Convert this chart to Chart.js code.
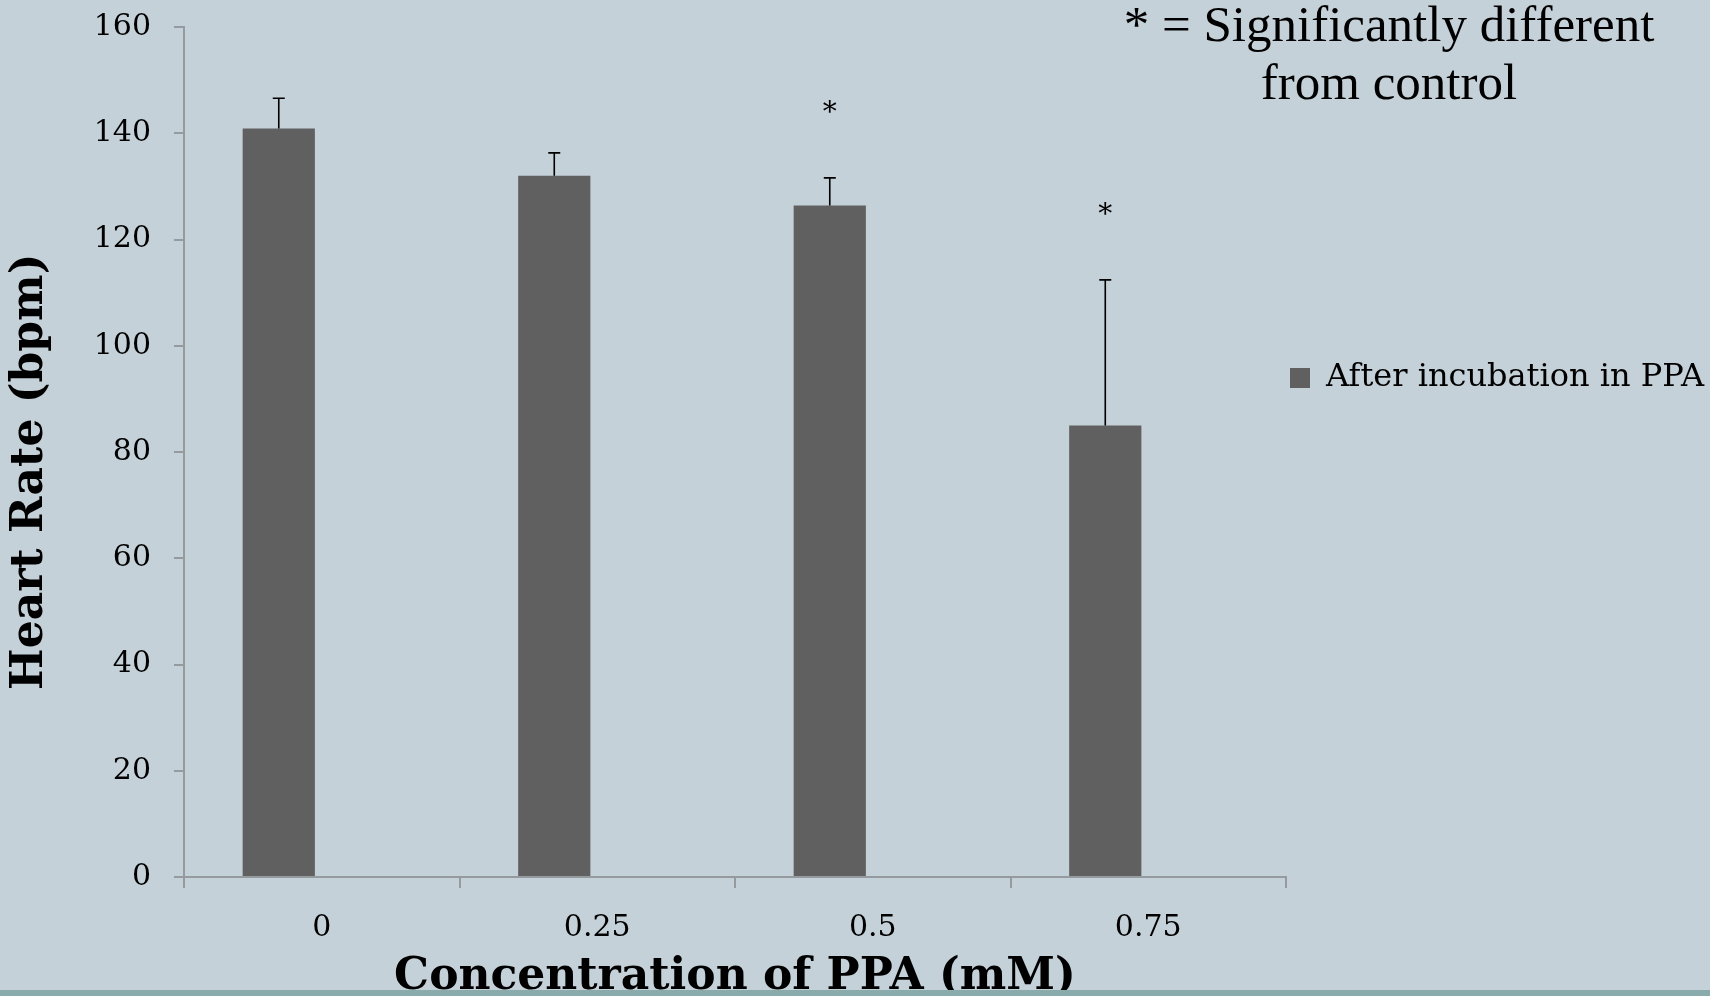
<!DOCTYPE html>
<html>
<head>
<meta charset="utf-8">
<script src="https://cdn.jsdelivr.net/npm/chart.js@4.4.1/dist/chart.umd.min.js"></script>
<style>
    html, body {
        margin: 0;
        padding: 0;
        background: #c5d1d8;
        overflow: hidden;
    }
    #wrap {
        position: relative;
        width: 1710px;
        height: 996px;
    }
    #strip {
        position: absolute;
        left: 0;
        bottom: 0;
        width: 1710px;
        height: 6px;
        background: #8aabab;
    }
</style>
</head>
<body>
<div id="wrap">
    <canvas id="hrChart"></canvas>
    <div id="strip"></div>
</div>
<script>
const concentrations = ["0", "0.25", "0.5", "0.75"];

const heartRate = [140.9, 132.0, 126.4, 85.0];

const errorUp = [5.7, 4.3, 5.2, 27.4];

const marks = ["", "", "*", "*"];

const seriesName = "After incubation in PPA";

const noteLines = ["* = Significantly different", "from control"];

const serif = "'DejaVu Serif', Georgia, serif";

// error bars, significance stars and the note in the corner
const extras = {

    id: "extras",

    afterDatasetsDraw(chart) {

        const ctx = chart.ctx;
        const y = chart.scales.y;
        const meta = chart.getDatasetMeta(0);

        ctx.save();
        ctx.strokeStyle = "#000";
        ctx.fillStyle = "#000";
        ctx.lineWidth = 1.6;
        ctx.font = "28px " + serif;
        ctx.textAlign = "center";
        ctx.textBaseline = "middle";

        meta.data.forEach((bar, i) => {

            const top = y.getPixelForValue(heartRate[i] + errorUp[i]);

            ctx.beginPath();
            ctx.moveTo(bar.x, bar.y);
            ctx.lineTo(bar.x, top);
            ctx.moveTo(bar.x - 6, top);
            ctx.lineTo(bar.x + 6, top);
            ctx.stroke();

            if (marks[i]) {
                ctx.fillText(marks[i], bar.x, top - 64);
            }

        });

        ctx.font = "51px 'Liberation Serif', 'Times New Roman', serif";
        ctx.textBaseline = "alphabetic";
        ctx.fillText(noteLines[0], 1389, 41);
        ctx.fillText(noteLines[1], 1389, 99);

        ctx.restore();

    }

};

const ctx = document.getElementById("hrChart");

const chart = new Chart(ctx, {

    type: "bar",

    data: {

        labels: concentrations,

        datasets: [

            {
                label: seriesName,
                data: heartRate,
                backgroundColor: "#606060",
                borderWidth: 0,
                categoryPercentage: 0.624,
                barPercentage: 0.84
            },

            {
                label: "",
                data: concentrations.map(() => null),
                backgroundColor: "rgba(0,0,0,0)",
                categoryPercentage: 0.624,
                barPercentage: 0.84
            }

        ]

    },

    options: {

        responsive: true,
        maintainAspectRatio: false,
        animation: false,

        layout: {
            padding: { top: 27, left: 4, right: 0, bottom: 0 }
        },

        scales: {

            x: {
                grid: {
                    drawOnChartArea: false,
                    drawTicks: true,
                    tickLength: 11,
                    color: "#959a9e",
                    lineWidth: 2
                },
                border: { display: true, color: "#959a9e", width: 2 },
                ticks: {
                    color: "#000",
                    padding: 22,
                    font: { family: serif, size: 30 }
                },
                title: {
                    display: true,
                    text: "Concentration of PPA (mM)",
                    color: "#000",
                    padding: { top: 0, bottom: 0 },
                    font: { family: serif, size: 44, weight: "bold", lineHeight: 0.85 }
                },
                afterFit(scale) {
                    scale.height = 119;
                }
            },

            y: {
                min: 0,
                max: 160,
                grid: {
                    drawOnChartArea: false,
                    drawTicks: true,
                    tickLength: 10,
                    color: "#959a9e",
                    lineWidth: 2
                },
                border: { display: true, color: "#959a9e", width: 2 },
                ticks: {
                    stepSize: 20,
                    color: "#000",
                    padding: 23,
                    font: { family: serif, size: 30 }
                },
                title: {
                    display: true,
                    text: "Heart Rate (bpm)  \u2009",
                    color: "#000",
                    padding: { top: 0, bottom: 0 },
                    font: { family: serif, size: 44, weight: "bold" }
                },
                afterFit(scale) {
                    scale.width = 180;
                    scale.paddingTop = 0;
                    scale.paddingBottom = 0;
                }
            }

        },

        plugins: {

            legend: {
                position: "right",
                align: "start",
                maxWidth: 424,
                title: {
                    display: true,
                    text: " ",
                    padding: { top: 319, bottom: 0 },
                    font: { size: 10 }
                },
                labels: {
                    color: "#000",
                    boxWidth: 20,
                    boxHeight: 20,
                    padding: 4,
                    font: { family: serif, size: 32 },
                    filter: item => item.text !== ""
                }
            },

            tooltip: { enabled: false }

        }

    },

    plugins: [extras]

});
</script>
</body>
</html>
